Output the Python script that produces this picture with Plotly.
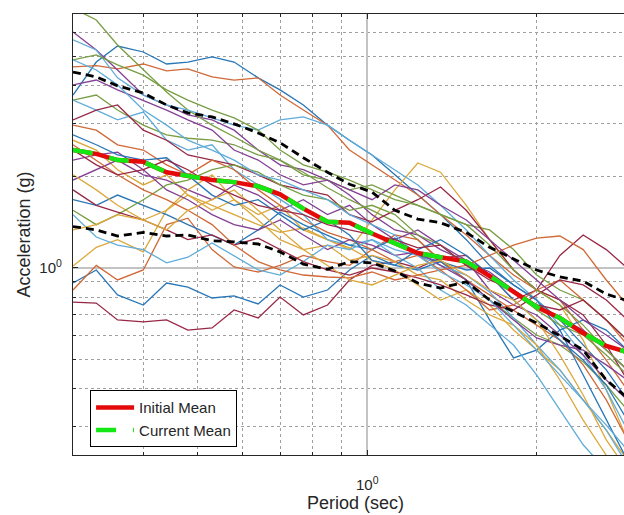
import plotly.graph_objects as go

# Periods (sec) at which the spectra were read
periods = [0.30, 0.33, 0.36, 0.40, 0.44, 0.48, 0.53, 0.58, 0.64, 0.70, 0.77, 0.85, 0.93,
           1.02, 1.12, 1.23, 1.35, 1.50, 1.65, 1.82, 2.0, 2.2, 2.42, 2.66, 2.9]

# Individual record spectra (g)
rec01 = [3.72, 4.78, 5.40, 5.16, 4.71, 4.78, 4.97, 4.78, 4.24, 3.87, 3.45, 2.96, 2.64, 2.36, 2.03, 1.74, 1.50, 1.24, 1.02, 0.879, 0.784, 0.674, 0.557, 0.461, 0.367]
rec02 = [4.61, 4.65, 4.54, 4.71, 4.47, 4.54, 4.27, 4.17, 4.24, 3.72, 3.32, 2.96, 2.45, 2.19, 1.95, 1.74, 1.50, 1.285, 1.10, 0.948, 0.846, 0.784, 0.624, 0.497, 0.396]
rec03 = [2.64, 2.45, 2.11, 1.88, 2.03, 1.74, 1.55, 1.68, 1.50, 1.61, 1.335, 1.24, 1.15, 1.44, 1.81, 2.22, 2.07, 1.61, 1.24, 0.985, 0.846, 0.755, 0.578, 0.396, 0.271]
rec04 = [6.01, 5.24, 4.50, 3.72, 3.45, 3.20, 3.08, 2.85, 2.45, 2.19, 2.11, 1.95, 1.74, 1.50, 1.335, 1.285, 1.15, 1.05, 0.97, 0.846, 0.755, 0.684, 0.624, 0.536, 0.461]
rec05 = [7.2, 6.58, 5.44, 4.50, 3.81, 3.32, 2.96, 2.71, 2.45, 2.27, 2.07, 1.84, 1.68, 1.55, 1.42, 1.24, 1.05, 0.913, 0.784, 0.684, 0.601, 0.557, 0.49, 0.411, 0.34]
rec06 = [5.66, 5.24, 4.24, 3.72, 3.45, 3.32, 3.13, 2.96, 2.85, 3.08, 3.15, 2.96, 2.64, 2.36, 2.11, 1.88, 1.61, 1.335, 1.10, 0.913, 0.784, 0.648, 0.516, 0.396, 0.292]
rec07 = [0.772, 0.766, 0.674, 0.664, 0.674, 0.624, 0.634, 0.727, 0.684, 0.802, 0.70, 0.755, 0.913, 1.02, 1.05, 1.00, 1.08, 1.10, 0.948, 0.784, 0.846, 1.10, 1.285, 1.15, 1.00]
rec08 = [0.892, 0.985, 0.815, 0.755, 0.892, 0.865, 0.796, 0.809, 0.761, 0.879, 0.802, 0.846, 0.985, 1.10, 1.02, 0.985, 1.05, 0.913, 0.674, 0.505, 0.536, 0.624, 0.674, 0.624, 0.536]
rec09 = [0.846, 1.02, 0.913, 0.985, 1.39, 1.46, 1.15, 1.008, 0.97, 1.02, 1.10, 1.05, 1.02, 1.15, 1.285, 1.24, 1.06, 0.913, 0.815, 0.727, 0.648, 0.578, 0.479, 0.367, 0.271]
rec10 = [1.015, 1.17, 1.24, 1.13, 1.55, 1.74, 1.61, 1.50, 1.39, 1.31, 1.355, 1.24, 1.165, 1.06, 0.985, 0.879, 0.784, 0.846, 0.755, 0.624, 0.536, 0.461, 0.367, 0.292, 0.232]
rec11 = [1.95, 2.11, 2.27, 2.03, 1.95, 1.81, 1.68, 1.88, 1.74, 1.55, 1.68, 1.50, 1.61, 1.39, 1.24, 1.335, 1.19, 1.06, 0.846, 0.755, 0.70, 0.601, 0.516, 0.427, 0.367]
rec12 = [3.58, 3.72, 3.32, 2.96, 2.75, 2.68, 2.64, 2.55, 2.36, 2.27, 2.03, 1.95, 1.81, 1.88, 1.74, 1.61, 1.50, 1.39, 1.335, 1.15, 0.948, 0.846, 0.784, 0.674, 0.578]
rec13 = [3.58, 3.32, 3.08, 3.27, 2.64, 2.45, 2.55, 2.11, 1.88, 1.68, 1.50, 1.24, 1.19, 1.24, 1.15, 1.10, 1.02, 0.948, 0.833, 0.684, 0.557, 0.461, 0.367, 0.292, 0.224]
rec14 = [3.08, 3.32, 3.45, 2.85, 2.64, 2.36, 2.27, 2.19, 2.03, 1.88, 1.81, 1.74, 1.50, 1.42, 1.55, 1.68, 1.85, 1.55, 1.24, 0.985, 0.846, 0.784, 0.70, 0.557, 0.427]
rec15 = [1.68, 1.61, 1.74, 1.61, 1.50, 1.39, 1.285, 1.19, 1.335, 1.53, 1.39, 1.285, 1.19, 1.15, 1.255, 1.10, 1.05, 0.985, 1.00, 0.879, 0.784, 0.624, 0.444, 0.315, 0.232]
rec16 = [2.96, 2.85, 2.55, 2.45, 2.19, 2.03, 2.27, 2.11, 1.81, 1.61, 1.44, 1.31, 1.24, 1.15, 1.05, 1.10, 0.985, 0.846, 0.727, 0.755, 0.846, 0.913, 0.784, 0.674, 0.557]
rec17 = [2.03, 1.81, 1.61, 1.44, 1.55, 1.81, 2.03, 1.68, 1.44, 1.24, 1.15, 1.19, 1.06, 1.10, 1.05, 0.948, 0.913, 0.784, 0.70, 0.648, 0.557, 0.427, 0.315, 0.241, 0.20]
rec18 = [2.27, 2.36, 2.41, 2.11, 1.81, 1.68, 1.50, 1.39, 1.335, 1.44, 1.285, 1.15, 1.24, 1.19, 1.10, 1.13, 1.02, 0.913, 0.784, 0.674, 0.588, 0.557, 0.536, 0.479, 0.427]
rec19 = [1.55, 1.39, 1.50, 1.68, 1.88, 1.95, 2.11, 2.19, 2.07, 1.88, 1.74, 1.68, 1.55, 1.61, 1.50, 1.285, 1.19, 1.02, 0.948, 0.846, 0.727, 0.648, 0.601, 0.516, 0.444]
rec20 = [1.50, 1.265, 1.19, 1.15, 1.04, 1.085, 1.21, 1.10, 0.985, 0.948, 1.05, 1.19, 1.15, 1.24, 1.10, 1.00, 0.846, 0.755, 0.648, 0.557, 0.444, 0.34, 0.261, 0.215, 0.185]
rec21 = [1.81, 1.61, 1.53, 1.44, 1.335, 1.24, 1.285, 1.19, 1.255, 1.15, 1.05, 0.985, 0.948, 1.00, 0.97, 0.927, 0.879, 0.815, 0.755, 0.727, 0.815, 0.913, 0.879, 0.784, 0.674]
rec22 = [2.75, 2.55, 2.36, 2.27, 2.31, 2.03, 1.74, 1.61, 1.68, 1.50, 1.335, 1.44, 1.285, 1.06, 1.02, 1.15, 1.24, 1.10, 0.948, 0.784, 0.674, 0.578, 0.497, 0.411, 0.315]
rec23 = [2.55, 2.27, 2.03, 1.81, 1.68, 1.55, 1.39, 1.19, 1.05, 0.985, 0.948, 0.934, 0.927, 0.97, 0.913, 0.948, 0.985, 1.02, 1.10, 1.19, 1.255, 1.275, 1.15, 0.913, 0.755]
rec24 = [1.335, 1.39, 1.50, 1.44, 1.335, 1.55, 1.68, 1.81, 1.55, 1.335, 1.15, 1.02, 0.913, 0.879, 0.948, 1.02, 1.06, 0.948, 0.846, 0.784, 0.674, 0.516, 0.381, 0.271, 0.215]
rec25 = [4.02, 4.17, 3.87, 3.58, 3.32, 3.08, 2.85, 2.45, 2.27, 2.03, 1.88, 1.95, 1.81, 1.68, 1.88, 1.81, 1.61, 1.44, 1.24, 1.06, 0.913, 0.784, 0.674, 0.601, 0.536]
rec26 = [4.86, 5.05, 4.68, 4.33, 3.87, 3.58, 3.32, 3.13, 2.85, 2.45, 2.19, 2.07, 1.95, 1.81, 1.68, 1.61, 1.50, 1.39, 1.19, 0.985, 0.846, 0.755, 0.648, 0.536, 0.461]
rec27 = [4.86, 4.50, 4.02, 3.32, 2.96, 2.64, 2.45, 2.27, 2.03, 1.95, 1.81, 1.68, 1.50, 1.39, 1.285, 1.10, 0.97, 0.879, 0.784, 0.648, 0.536, 0.444, 0.367, 0.303, 0.251]
rec28 = [2.45, 2.19, 2.03, 2.11, 2.27, 2.11, 1.88, 1.74, 1.61, 1.55, 1.50, 1.39, 1.335, 1.285, 1.24, 1.165, 1.19, 1.02, 0.913, 0.846, 0.755, 0.727, 0.784, 0.674, 0.578]

records = [rec01, rec02, rec03, rec04, rec05, rec06, rec07, rec08, rec09, rec10, rec11, rec12, rec13, rec14,
           rec15, rec16, rec17, rec18, rec19, rec20, rec21, rec22, rec23, rec24, rec25, rec26, rec27, rec28]

# Mean spectra and bounds (g)
initial_mean = [2.45, 2.38, 2.27, 2.24, 2.07, 2.01, 1.95, 1.92, 1.86, 1.75, 1.57, 1.42, 1.41, 1.30, 1.21, 1.12, 1.085, 1.05, 0.941, 0.833, 0.744, 0.684, 0.61, 0.553, 0.528]
current_mean = [2.45, 2.38, 2.27, 2.24, 2.07, 2.01, 1.95, 1.92, 1.86, 1.75, 1.57, 1.42, 1.41, 1.30, 1.21, 1.12, 1.085, 1.05, 0.941, 0.833, 0.744, 0.684, 0.61, 0.553, 0.528]
upper_bound = [4.43, 4.27, 3.99, 3.78, 3.45, 3.25, 3.15, 2.99, 2.79, 2.59, 2.31, 2.07, 1.89, 1.78, 1.55, 1.45, 1.41, 1.31, 1.17, 1.07, 0.985, 0.934, 0.905, 0.82, 0.78]
lower_bound = [1.37, 1.335, 1.275, 1.31, 1.275, 1.285, 1.23, 1.22, 1.20, 1.13, 1.03, 0.99, 1.05, 1.04, 0.977, 0.892, 0.859, 0.90, 0.784, 0.716, 0.659, 0.597, 0.536, 0.427, 0.373]

legend_labels = ["Initial Mean", "Current Mean"]
x_title = "Period (sec)"
y_title = "Acceleration (g)"

palette = ["rgb(40,118,182)", "rgb(208,104,55)", "rgb(220,168,60)", "rgb(132,64,148)",
           "rgb(120,158,68)", "rgb(95,172,218)", "rgb(152,40,70)"]

fig = go.Figure()
for i, rec in enumerate(records):
    fig.add_trace(go.Scatter(x=periods, y=rec, mode="lines",
                             line=dict(color=palette[i % len(palette)], width=1.3),
                             showlegend=False, hoverinfo="skip"))

for b in (upper_bound, lower_bound):
    fig.add_trace(go.Scatter(x=periods, y=b, mode="lines",
                             line=dict(color="black", width=2.8, dash="8px,5px"),
                             showlegend=False, hoverinfo="skip"))

fig.add_trace(go.Scatter(x=periods, y=initial_mean, mode="lines", name=legend_labels[0],
                         line=dict(color="rgb(228,10,10)", width=4.5)))
fig.add_trace(go.Scatter(x=periods, y=current_mean, mode="lines", name=legend_labels[1],
                         line=dict(color="rgb(20,232,20)", width=4.5, dash="20px,17px")))

axis_col = "#262626"
font_fam = "Liberation Sans, Arial, Helvetica, sans-serif"

fig.update_layout(
    width=624, height=515,
    margin=dict(l=73, r=0, t=14, b=60),
    paper_bgcolor="white", plot_bgcolor="white",
    font=dict(family=font_fam, size=15, color=axis_col),
    showlegend=True,
    legend=dict(x=0.031, y=0.147, xanchor="left", yanchor="top",
                bgcolor="white", bordercolor="black", borderwidth=1,
                font=dict(size=15, color=axis_col), itemwidth=38,
                tracegroupgap=0),
    annotations=[
        dict(text=x_title, xref="paper", yref="paper", x=0.5136, y=-0.109,
             xanchor="center", yanchor="middle", showarrow=False,
             font=dict(size=18, color=axis_col, family=font_fam)),
        dict(text=y_title, xref="paper", yref="paper", x=-0.0907, y=0.5,
             xanchor="center", yanchor="middle", showarrow=False, textangle=-90,
             font=dict(size=18, color=axis_col, family=font_fam)),
    ],
)

fig.update_xaxes(
    type="log", range=[-0.52288, 0.45637],
    showline=True, linecolor=axis_col, linewidth=1.2, mirror="ticks",
    tickmode="array", tickvals=[1], ticktext=["10<sup>0</sup>"],
    ticks="inside", ticklen=5, tickcolor=axis_col, ticklabelstandoff=16,
    showgrid=True, gridcolor="rgb(195,195,195)", gridwidth=1.5,
    zeroline=False,
    minor=dict(tickvals=[0.4, 0.5, 0.6, 0.7, 0.8, 0.9, 2, 3], ticks="inside", ticklen=3,
               tickcolor=axis_col, showgrid=True, gridcolor="rgb(160,160,160)",
               griddash="dot", gridwidth=1),
)
fig.update_yaxes(
    type="log", range=[-0.617, 0.838],
    showline=True, linecolor=axis_col, linewidth=1.2, mirror=False,
    tickmode="array", tickvals=[1], ticktext=["10<sup>0</sup>"],
    ticks="inside", ticklen=5, tickcolor=axis_col, ticklabelstandoff=7,
    showgrid=True, gridcolor="rgb(195,195,195)", gridwidth=1.5,
    zeroline=False,
    minor=dict(tickvals=[0.3, 0.4, 0.5, 0.6, 0.7, 0.8, 0.9, 2, 3, 4, 5, 6], ticks="inside",
               ticklen=3, tickcolor=axis_col, showgrid=True, gridcolor="rgb(160,160,160)",
               griddash="dot", gridwidth=1),
)

fig.write_html("out.html", config={"displayModeBar": False},
               post_script="document.body.style.margin='0';document.body.style.overflow='hidden';")
